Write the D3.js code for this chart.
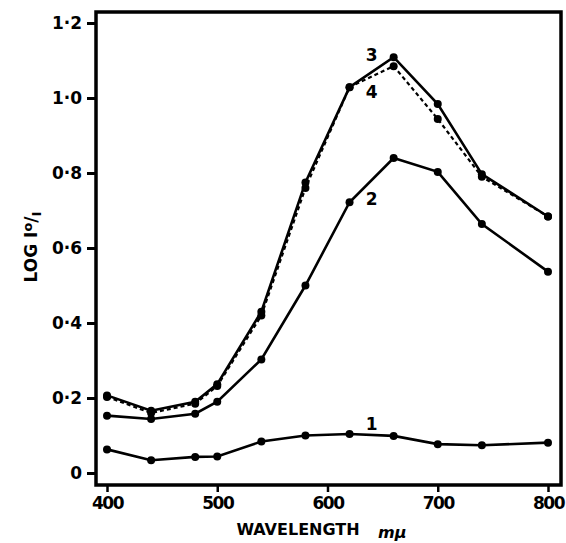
<!DOCTYPE html>
<html>
<head>
<meta charset="utf-8">
<script src="https://cdn.jsdelivr.net/npm/d3@7"></script>
<style>
  body { margin: 0; background: #fff; }
  svg text { font-family: "DejaVu Sans", sans-serif; font-weight: bold; fill: #000; }
  .axis path, .axis line { stroke: #000; }
  .axis text { font-size: 17px; }
</style>
</head>
<body>
<svg width="566" height="543"></svg>
<script>
// wavelength (m\u03bc) and log Io/I for the four curves
var wavelengths = [400, 440, 480, 500, 540, 580, 620, 660, 700, 740, 800];
var curve1 = [0.063, 0.034, 0.043, 0.044, 0.084, 0.100, 0.104, 0.099, 0.077, 0.074, 0.081];
var curve2 = [0.153, 0.144, 0.158, 0.190, 0.303, 0.500, 0.722, 0.840, 0.803, 0.664, 0.537];
var curve3 = [0.207, 0.166, 0.190, 0.237, 0.430, 0.775, 1.029, 1.109, 0.984, 0.797, 0.684];
var curve4 = [0.203, 0.160, 0.185, 0.232, 0.420, 0.760, 1.029, 1.085, 0.944, 0.790, 0.684];
var xTicks = [400, 500, 600, 700, 800];
var yTicks = [0, 0.2, 0.4, 0.6, 0.8, 1.0, 1.2];
var curveLabels = ["1", "2", "3", "4"];

var svg = d3.select("svg");

var x = d3.scaleLinear().domain([400, 800]).range([107, 548]);
var y = d3.scaleLinear().domain([0, 1.2]).range([473, 23]);

var frameL = 96, frameR = 561, frameT = 12, frameB = 485;

function fmt(d) {
    if (d == 0) return "0";
    return d3.format(".1f")(d).replace(".", "\u00b7");
}

// y axis (left edge of frame)
var yAxis = d3.axisLeft(y).tickValues(yTicks).tickFormat(fmt).tickSize(9).tickSizeOuter(0).tickPadding(5);
var gy = svg.append("g").attr("class", "axis")
    .attr("transform", "translate(" + frameL + ",0)")
    .call(yAxis);
gy.select(".domain").remove();
gy.selectAll(".tick line").attr("stroke-width", 3);

var xAxis = d3.axisBottom(x).tickValues(xTicks).tickSize(7).tickSizeOuter(0).tickPadding(5);
var gx = svg.append("g").attr("class", "axis")
    .attr("transform", "translate(0," + frameB + ")")
    .call(xAxis);
gx.select(".domain").remove();
gx.selectAll(".tick line").attr("stroke-width", 2.5);
gx.selectAll(".tick text").attr("letter-spacing", -1.5);

// frame
svg.append("path")
    .attr("d", "M" + frameL + "," + frameB + "V" + frameT + "H" + frameR + "V" + frameB + "Z")
    .attr("fill", "none")
    .attr("stroke", "#000")
    .attr("stroke-width", 3.5);

var line = d3.line()
    .x(function(d) { return x(d[0]); })
    .y(function(d) { return y(d[1]); });

var series = [curve1, curve2, curve3, curve4];
series.forEach(function(vals, i) {
    var pts = wavelengths.map(function(w, j) { return [w, vals[j]]; });
    svg.append("path")
        .datum(pts)
        .attr("d", line)
        .attr("fill", "none")
        .attr("stroke", "#000")
        .attr("stroke-width", i == 3 ? 2.2 : 2.6)
        .attr("stroke-dasharray", i == 3 ? "4,3" : null);
    svg.selectAll(".dot" + i)
        .data(pts)
        .enter().append("circle")
        .attr("class", "dot" + i)
        .attr("cx", function(d) { return x(d[0]); })
        .attr("cy", function(d) { return y(d[1]); })
        .attr("r", 4)
        .attr("fill", "#000");
});

// curve labels
var labelPos = [[640, 0.13], [640, 0.73], [640, 1.115], [640, 1.015]];
svg.selectAll(".clabel")
    .data(curveLabels)
    .enter().append("text")
    .attr("class", "clabel")
    .attr("x", function(d, i) { return x(labelPos[i][0]); })
    .attr("y", function(d, i) { return y(labelPos[i][1]); })
    .attr("text-anchor", "middle")
    .attr("dy", "0.35em")
    .attr("font-size", 17)
    .text(function(d) { return d; });

// axis titles
svg.append("text")
    .attr("x", 298)
    .attr("y", 535)
    .attr("text-anchor", "middle")
    .attr("font-size", 16)
    .text("WAVELENGTH");
svg.append("text")
    .attr("x", 378)
    .attr("y", 538)
    .attr("text-anchor", "start")
    .attr("font-size", 16)
    .attr("font-weight", "normal")
    .attr("font-style", "italic")
    .text("m\u03bc");

var yl = svg.append("text")
    .attr("transform", "translate(37,247) rotate(-90)")
    .attr("text-anchor", "middle")
    .attr("font-size", 17);
yl.append("tspan").text("LOG  I");
yl.append("tspan").attr("font-size", 13).attr("dy", -5).text("o");
yl.append("tspan").attr("dy", 5).text("/");
yl.append("tspan").attr("font-size", 13).attr("dy", 4).text("I");
</script>
</body>
</html>
